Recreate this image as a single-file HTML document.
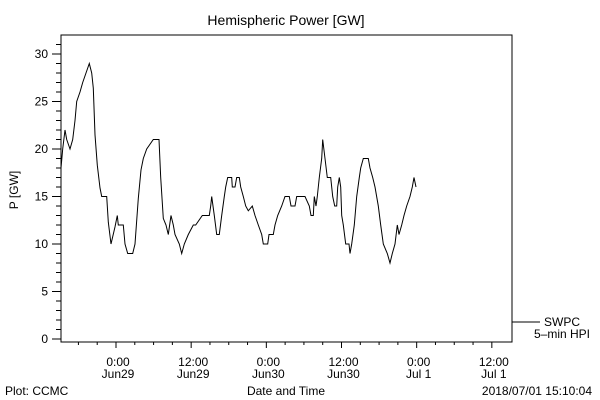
<!DOCTYPE html>
<html><head><meta charset="utf-8"><style>
html,body{margin:0;padding:0;background:#fff;}
svg{display:block;font-family:"Liberation Sans",sans-serif;}
</style></head><body>
<svg width="600" height="400" xmlns="http://www.w3.org/2000/svg">
<rect width="600" height="400" fill="#fff"/>
<text x="286" y="25" font-size="14" text-anchor="middle">Hemispheric Power [GW]</text>
<rect x="61" y="35" width="451" height="307" fill="none" stroke="#000" stroke-width="1"/>
<g id="yaxis"></g>
<g id="xaxis"></g>
<text transform="translate(18,190) rotate(-90)" font-size="12" text-anchor="middle">P [GW]</text>
<path id="series" fill="none" stroke="#000" stroke-width="1"/>
<line x1="512" y1="322" x2="540" y2="322" stroke="#000"/>
<text x="580" y="326" font-size="12" text-anchor="end">SWPC</text>
<text x="590" y="338" font-size="12" text-anchor="end">5–min HPI</text>
<text x="5" y="395" font-size="12">Plot: CCMC</text>
<text x="286" y="395" font-size="12" text-anchor="middle">Date and Time</text>
<text x="592" y="395" font-size="12" text-anchor="end">2018/07/01 15:10:04</text>
</svg>
<script>
const hours=[0,0.27,0.64,0.91,1.44,1.87,2.23,2.51,3.03,3.46,3.99,4.52,4.9,5.16,5.43,5.8,6.23,6.5,7.3,7.55,7.98,8.62,8.99,9.15,9.95,10.22,10.65,11.45,11.81,12.34,12.77,13.14,13.68,14.73,15.64,15.92,16.33,16.76,17.13,17.56,17.93,18.2,18.89,19.27,19.68,20.32,21.12,21.5,22.56,23.67,23.9,24.06,24.47,24.86,25.27,25.65,26.07,26.29,26.61,27.25,27.35,27.78,28.05,28.46,28.69,29.1,29.49,29.9,30.54,30.97,31.5,32.04,32.3,33,33.2,33.89,34.16,34.59,35.23,35.76,36.45,36.72,37.36,37.63,38.95,39.64,39.91,40.28,40.44,40.71,40.92,41.24,41.62,41.78,42.15,42.51,43.05,43.37,43.69,44.01,44.17,44.43,44.65,44.81,45.07,45.45,45.98,46.14,46.41,46.82,47.21,47.62,47.84,48.26,49.06,49.33,49.76,50.13,50.65,51.04,51.45,52.09,52.52,52.89,53.32,53.69,53.96,54.39,54.76,55.19,55.72,56.08,56.35,56.67];
const power=[18,20,22,21,20,21,23,25,26,27,28,29,28,26.4,21.5,18.3,15.9,15,15,12.3,10,11.8,13,12,12,10,9,9,10,14.8,17.8,19,20,21,21,17,12.7,12,11,13,12,11,10,9,10,11,12,12,13,13,14,15,13,11,11,13,15,16,17,17,16,16,17,17,16,15,14,13.5,14,13,12,11,10,10,11,11,12,13,14,15,15,14,14,15,15,14,13,13,15,14,15,17,19,21,19,17,17,15,14,14,16,17,16,13,12,10,10,9,10,12,15,17,18,19,19,18,17,16,14,12,10,9,8,9,10,12,11,12,13,14,15,16,17,16];
const yTickValues=[0,5,10,15,20,25,30];
const xTickLabels1=["0:00","12:00","0:00","12:00","0:00","12:00"];
const xTickLabels2=["Jun29","Jun29","Jun30","Jun30","Jul 1","Jul 1"];
const firstMajorHour=8.78;
const NS="http://www.w3.org/2000/svg";
const xs=h=>61+h*6.264;
const ys=v=>339-v*9.5;
function mk(tag,attrs,parent){const e=document.createElementNS(NS,tag);for(const k in attrs)e.setAttribute(k,attrs[k]);parent.appendChild(e);return e;}
const ya=document.getElementById('yaxis');
for(let v=0;v<=31;v++){
  const major=v%5===0;
  const t=mk('line',{x1:major?52:56,x2:61,y1:ys(v),y2:ys(v),stroke:'#000'},ya);
  
  
}
yTickValues.forEach(v=>{
  const t=mk('text',{x:48,y:ys(v)+4,'font-size':12,'text-anchor':'end'},ya);
  t.textContent=v;
  
  
});
const xa=document.getElementById('xaxis');
for(let k=-2;k<=20;k++){
  const h=firstMajorHour+3*k;
  if(h<0||h>72)continue;
  const major=k%4===0;
  const t=mk('line',{x1:xs(h),x2:xs(h),y1:342,y2:major?348:345,stroke:'#000'},xa);
  
  
}
xTickLabels1.forEach((lab,i)=>{
  const x=xs(firstMajorHour+12*i)+2;
  const a=mk('text',{x:x,y:366,'font-size':12,'text-anchor':'middle'},xa);
  a.textContent=lab;
  
  
  const b=mk('text',{x:x,y:378,'font-size':12,'text-anchor':'middle'},xa);
  b.textContent=xTickLabels2[i];
  
  
});
let d='';
hours.forEach((h,i)=>{d+=(i?'L':'M')+xs(h).toFixed(1)+' '+ys(power[i]).toFixed(1);});
document.getElementById('series').setAttribute('d',d);
</script>
</body></html>
